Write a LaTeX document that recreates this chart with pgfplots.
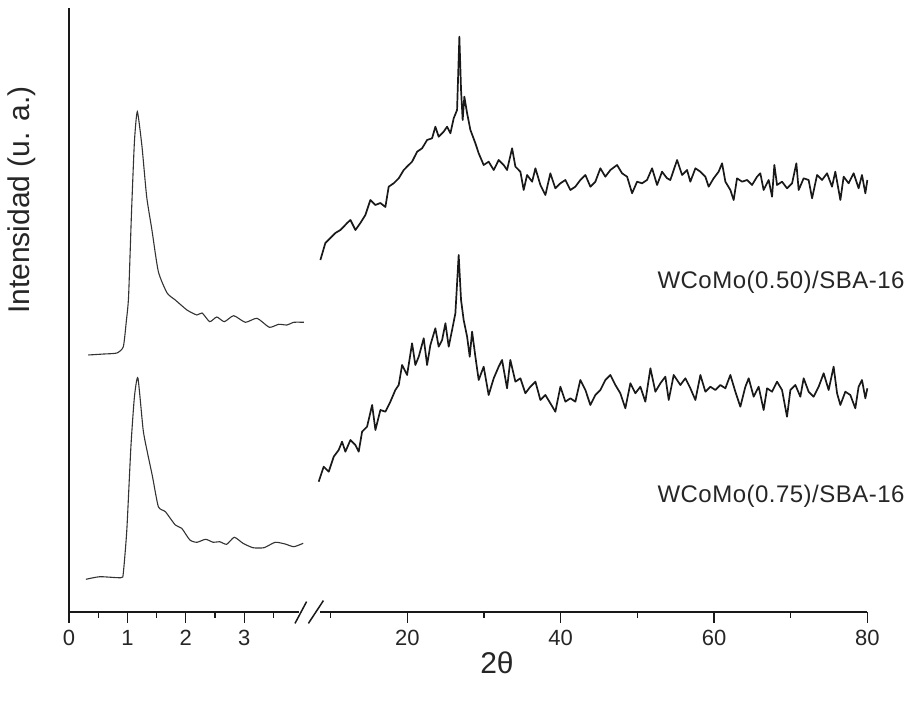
\documentclass[border=0pt]{standalone}
\usepackage{fontspec}
\setmainfont{Liberation Sans}
\newfontfamily\labfont[LetterSpace=2]{Liberation Sans}
\usepackage{pgfplots}
\pgfplotsset{compat=1.18}
\begin{document}
\begin{tikzpicture}
\useasboundingbox (-34.5pt,-45pt) rectangle (421.5pt,306pt);
\pgfplotsset{
  common/.style={
    y=0.5pt, ymin=0, ymax=604,
    axis x line*=bottom,
    axis line style={line width=0.75pt, black!90},
    ytick=\empty,
    tick align=outside,
    major tick length=5.5pt, minor tick length=3pt,
    every tick/.style={line width=0.65pt, black!90},
    xticklabel style={font=\fontsize{11}{13}\selectfont, text=black!85},
    /pgf/number format/assume math mode=true,
    clip=false,
  }
}
% left (low angle) part
\begin{axis}[common,
  at={(0,0)}, anchor=origin,
  x=29.2pt, xmin=0, xmax=3.93,
  axis y line*=left,
  xtick={0,1,2,3}, minor xtick={0.5,1.5,2.5,3.5},
]
\addplot[black!80, line width=0.55pt, smooth, tension=0.35] coordinates {
(0.33,257) (0.60,258) (0.82,259) (0.93,265.3) (0.98,290) (1.02,315.3) (1.07,399) (1.12,470)
(1.17,500.3) (1.25,465.3) (1.33,415.3) (1.42,382) (1.53,340.3) (1.68,319) (1.82,312)
(2.02,302) (2.19,297) (2.28,299) (2.41,290.3) (2.53,295) (2.66,290.3) (2.82,296.3)
(3.02,289.7) (3.22,293.7) (3.43,284.7) (3.59,287.7) (3.73,287) (3.85,289.7) (4.02,289.7)
};
\addplot[black!80, line width=0.55pt, smooth, tension=0.35] coordinates {
(0.29,32.7) (0.53,35.3) (0.89,34.3) (0.93,39) (0.99,82) (1.06,165.3) (1.12,215) (1.18,234)
(1.27,182) (1.34,160.3) (1.43,135.3) (1.53,105.3) (1.65,100.3) (1.82,87) (1.93,83.7)
(2.07,72) (2.19,69.7) (2.34,72.7) (2.47,69.7) (2.58,70.3) (2.70,67.7) (2.83,74.7)
(2.98,68.7) (3.15,64.3) (3.34,64.3) (3.53,69.7) (3.70,68) (3.85,65.3) (4.01,68.7)
};
\end{axis}
% right (wide angle) part
\begin{axis}[common,
  at={(125.5pt,0)}, anchor=south west,
  x=3.833pt, xmin=8.6, xmax=80,
  axis y line=none,
  xtick={20,40,60,80}, minor xtick={10,30,50,70},
]
\addplot[black!90, line width=0.85pt, line join=round] coordinates {
(8.65,352) (9.30,369) (9.96,374) (10.61,379) (11.26,382) (11.69,385.3) (12.14,389) (12.57,392)
(13.22,382) (13.87,389) (14.52,397) (15.17,412) (15.83,407) (16.48,409) (17.13,405) (17.56,425.3)
(18.21,428.7) (18.87,433.7) (19.52,442) (20.17,447) (20.61,450.3) (21.27,460.3) (21.92,463.7)
(22.57,472) (23.22,473.7) (23.65,485.3) (24.08,475.3) (24.73,480.3) (25.18,485.3) (25.61,478.7)
(26.04,493.7) (26.48,502) (26.78,575.3) (27.00,522) (27.21,492) (27.43,515.3) (27.79,498.7)
(28.22,482) (28.87,468.7) (29.30,458.7) (29.95,447) (30.60,450.3) (31.26,442) (31.91,452)
(32.56,447) (33.00,442) (33.66,463.7) (34.09,445.3) (34.74,440.3) (35.17,422) (35.61,437)
(36.27,430.3) (36.70,443.7) (37.35,427) (38.00,417) (38.65,438.7) (39.30,423.7) (39.96,428.7)
(40.61,432) (41.26,422) (41.91,425.3) (42.56,432) (43.22,437) (43.87,425.3) (44.52,430.3)
(45.17,443.7) (45.82,435.3) (46.48,442) (47.35,447) (48.00,438.7) (48.66,435.3) (49.31,418.7)
(49.96,430.3) (50.61,428.7) (51.26,432) (51.92,443.7) (52.57,427) (53.22,440.3) (53.87,433.7)
(54.30,432) (55.18,452) (55.83,437) (56.48,442) (56.91,430.3) (57.57,443.7) (58.22,440.3)
(58.87,435.3) (59.30,425.3) (59.95,433.7) (60.60,440.3) (61.05,448.7) (61.48,430.3) (62.13,422)
(62.56,412) (63.00,433.7) (63.66,430.3) (64.31,432) (64.96,427) (65.61,435.3) (66.04,438.7)
(66.47,422) (67.13,432) (67.57,415.3) (67.87,447) (68.22,427) (68.87,430.3) (69.52,423.7)
(70.18,428.7) (70.74,448.7) (71.04,422) (71.69,433.7) (72.34,432) (72.79,413.7) (73.44,437)
(74.09,432) (74.74,438.7) (75.39,425.3) (75.82,440.3) (76.48,412) (76.91,435.3) (77.56,428.7)
(78.21,438.7) (78.86,423.7) (79.30,437) (79.74,418.7) (80.0,432)
};
\addplot[black!90, line width=0.85pt, line join=round] coordinates {
(8.43,130.3) (9.08,145.3) (9.74,140.3) (10.39,155.3) (11.04,162) (11.48,170.3) (11.91,160.3)
(12.57,172) (13.22,167) (13.65,160.3) (14.09,180.3) (14.74,185.3) (15.40,207) (15.83,182)
(16.48,202) (17.13,200.3) (17.78,210.3) (18.43,222) (18.87,227) (19.31,247) (19.96,237)
(20.61,268.7) (21.04,247) (21.48,255.3) (22.13,273.7) (22.57,247) (23.00,267) (23.65,283.7)
(24.08,265.3) (24.53,272) (24.96,288.7) (25.39,265.3) (25.83,282) (26.26,298.7) (26.69,357)
(27.00,312) (27.34,292) (27.79,275.3) (28.13,255.3) (28.44,280.3) (28.87,255.3) (29.30,232)
(29.95,245.3) (30.60,217) (31.26,233.7) (31.91,245.3) (32.35,252) (33.00,223.7) (33.43,252)
(34.09,230.3) (34.74,233.7) (35.39,218.7) (36.04,225.3) (36.70,230.3) (37.35,212) (38.00,217)
(38.65,208.7) (39.30,200.3) (39.96,225.3) (40.61,210.3) (41.26,213.7) (41.91,210.3) (42.56,232)
(43.22,222) (43.87,207) (44.52,217) (45.17,222) (45.82,232) (46.48,237) (47.13,227) (47.78,218.7)
(48.43,203.7) (49.09,228.7) (49.74,218.7) (50.39,225.3) (51.04,210.3) (51.70,243.7) (52.35,220.3)
(53.00,228.7) (53.65,235.3) (54.09,212) (54.74,237) (55.61,227) (56.26,233.7) (56.91,223.7)
(57.57,212) (58.22,237) (58.87,220.3) (59.52,225.3) (60.17,222) (60.82,227) (61.48,223.7)
(62.13,237) (62.78,220.3) (63.43,205.3) (64.09,225.3) (64.52,233.7) (65.17,215.3) (65.82,225.3)
(66.47,202) (66.92,223.7) (67.57,220.3) (68.22,230.3) (68.87,222) (69.52,195.3) (69.96,222)
(70.61,227) (71.26,215.3) (71.69,233.7) (72.34,220.3) (72.99,215.3) (73.65,225.3) (74.30,238.7)
(74.95,222) (75.60,245.3) (76.05,218.7) (76.48,207) (77.13,220.3) (77.78,217) (78.43,203.7)
(78.86,225.3) (79.30,232) (79.74,213.7) (80.0,223.7)
};
\end{axis}
% axis break marks
\draw[line width=0.75pt, black!90] (113pt,-5.7pt) -- (118.8pt,5.2pt);
\draw[line width=0.75pt, black!90] (119.7pt,-5.7pt) -- (127.2pt,5.7pt);
% labels
\node[rotate=90, font=\fontsize{15}{18}\selectfont, text=black!85] at (-23.5pt,206pt) {Intensidad (u. a.)};
\node[font=\fontsize{15}{18}\selectfont, text=black!85] at (214pt,-25.5pt) {2θ};
\node[font=\labfont\fontsize{12}{14}\selectfont, text=black!85] at (356pt,165pt) {WCoMo(0.50)/SBA-16};
\node[font=\labfont\fontsize{12}{14}\selectfont, text=black!85] at (356pt,58pt) {WCoMo(0.75)/SBA-16};
\end{tikzpicture}
\end{document}
